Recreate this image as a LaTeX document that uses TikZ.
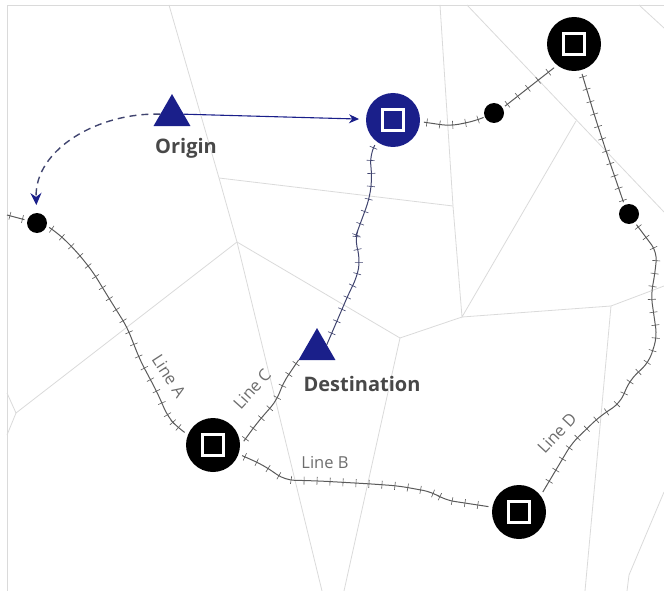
\documentclass[tikz,border=0pt]{standalone}
\usepackage{fontspec}
\setmainfont{Open Sans}
\usetikzlibrary{arrows.meta,decorations.markings,shapes.geometric}
\definecolor{routeblue}{HTML}{1A1F8A}
\definecolor{railblue}{HTML}{40446F}
\definecolor{railgray}{HTML}{5A5A5A}
\definecolor{roadgray}{HTML}{DADADA}
\definecolor{labelgray}{HTML}{484848}
\tikzset{
  road/.style={draw=roadgray, line width=.8pt},
  rail/.style={draw=#1, line width=1pt, line join=round, rounded corners=9pt, postaction={decorate, decoration={markings,
    mark=between positions 3pt and 1 step 13pt with {\draw[#1, line width=.6pt] (0,-4pt) -- (0,4pt);}}}},
  bigstop/.style={circle, fill=#1, inner sep=0pt, minimum size=54pt, outer sep=4pt},
  bigstop/.default=black,
  stopmark/.style={rectangle, draw=white, line width=2.4pt, inner sep=0pt, minimum size=21pt},
  smallstop/.style={circle, fill=black, inner sep=0pt, minimum size=20pt, outer sep=3pt},
  marker/.style={regular polygon, regular polygon sides=3, fill=routeblue, inner sep=0pt, minimum size=42.7pt, outer sep=0pt},
  placename/.style={text=labelgray, font=\fontsize{20}{20}\selectfont\bfseries},
  linename/.style={text=labelgray!80, font=\fontsize{16.5}{16.5}\selectfont}
}
\begin{document}
\begin{tikzpicture}[x=1pt,y=-1pt]
\useasboundingbox (0,0) rectangle (664,591);

\coordinate (r1) at (219,178);
\coordinate (r2) at (237,242);
\coordinate (r3) at (453,206);
\coordinate (r4) at (400,338);
\coordinate (r5) at (462,317);
\coordinate (r6) at (611,306);
\coordinate (r7) at (16,413);

\draw[road] (7,591) -- (7,5) -- (664,5);
\draw[road] (169,5) -- (r1) -- (r2) -- (322,591);
\draw[road] (r1) -- (r3);
\draw[road] (r2) -- (r7) -- (7,393);
\draw[road] (r7) -- (7,435);
\draw[road] (r2) -- (r4) -- (r5) -- (r6) -- (664,286);
\draw[road] (440,5) -- (r3) -- (r5) -- (576,121);
\draw[road] (467,5) -- (664,212);
\draw[road] (639,5) -- (664,28);
\draw[road] (r4) -- (344,591);
\draw[road] (r6) -- (585,591);
\draw[road] (664,492) -- (629,575) -- (627,591);

\node[marker] (origin) at (172,115.4) {};
\node[marker] (dest) at (317,349.4) {};
\node[placename] (originname) at (186,148) {Origin};
\node[placename] (destname) at (362,384) {Destination};

\node[bigstop=routeblue] (sa) at (393,120) {};
\node[bigstop] (sb) at (574,44) {};
\node[bigstop] (sc) at (213,445) {};
\node[bigstop] (sd) at (519,512) {};
\foreach \s in {a,b,c,d}
  \node[stopmark] (m\s) at (s\s) {};

\node[smallstop] (pa) at (37,223) {};
\node[smallstop] (pb) at (494,113) {};
\node[smallstop] (pc) at (629,214) {};

\coordinate (edge) at (7,215);

\draw[rail=railgray] (edge) -- (pa.165);
\draw[rail=railgray] (pa.-20) -- (60,235) -- (77,252) -- (93,272) -- (107,295) -- (127,327) -- (140,360) -- (157,392) -- (168,417) -- (177,427) -- (sc.156);
\draw[rail=railgray] (sc.-20) -- (263,465) -- (285,480) -- (320,481) -- (372,484) -- (399,486) -- (432,492) -- (445,500) -- (sd.170);
\draw[rail=railgray] (sc.7) -- (257,423) -- (277,400) -- (283,383) -- (dest.corner 2);
\draw[rail=railgray] (sa.-4) -- (450,126) -- (475,121) -- (pb.203);
\draw[rail=railgray] (pb.32) -- (sb.-130);
\draw[rail=railgray] (sb.-75) -- (595,117) -- (609,160) -- (pc.115);
\draw[rail=railgray] (pc.-55) -- (657,252) -- (655,273) -- (651,295) -- (657,337) -- (649,362) -- (630,380) -- (620,403) -- (599,417) -- (572,443) -- (sd.40);
\draw[rail=railblue] (sa.-126) -- (370,155) -- (372,180) -- (369,200) -- (359,227) -- (355,238) -- (360,260) -- (357,277) -- (349,293) -- (dest.25);

\draw[routeblue, line width=1.1pt, -{Stealth[length=10pt,width=9pt]}, shorten >=3pt] (origin.6) -- (sa);
\draw[railblue, line width=1.4pt, dash pattern=on 7pt off 5pt, -{Stealth[routeblue,length=12pt,width=11pt]}, shorten >=5pt] (origin.174) to[out=178,in=92] (pa);

\node[linename, rotate=-57] (linea) at (169,376) {Line A};
\node[linename] (lineb) at (325,463) {Line B};
\node[linename, rotate=48] (linec) at (252,389) {Line C};
\node[linename, rotate=47] (lined) at (557,433) {Line D};

\end{tikzpicture}
\end{document}
